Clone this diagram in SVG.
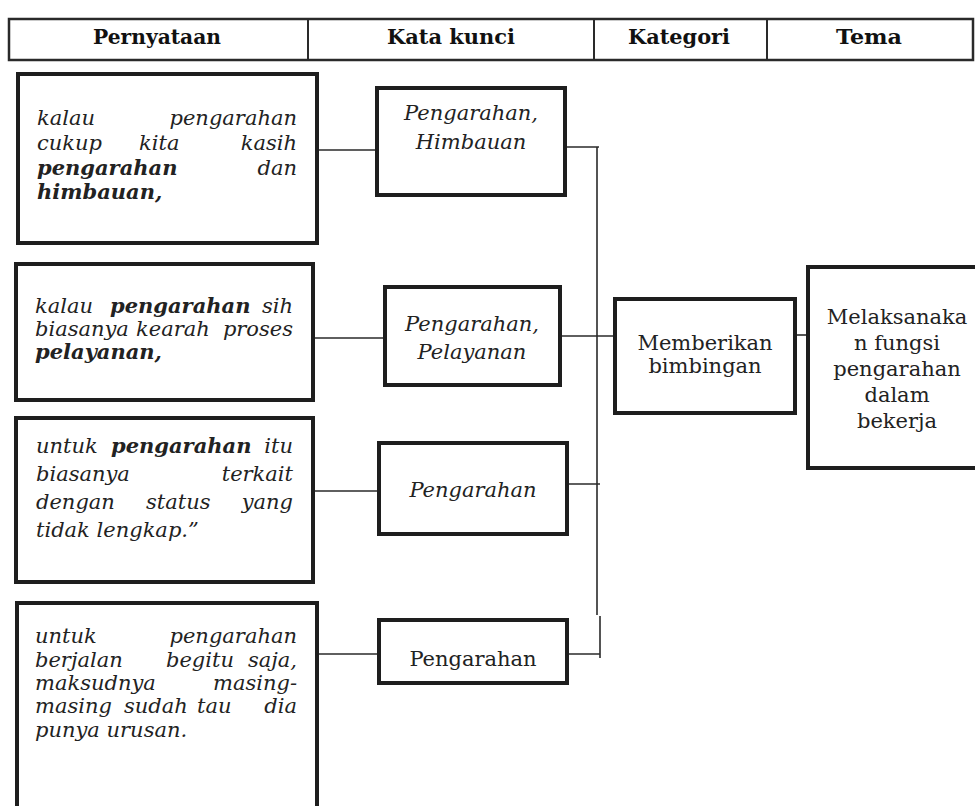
<svg xmlns="http://www.w3.org/2000/svg" width="975" height="806" viewBox="0 0 975 806">
<style>
.box{fill:#fff;stroke:#1e1e1e;stroke-width:4}
.hd{fill:#fff;stroke:#2a2a2a;stroke-width:2.5}
.div{stroke:#2a2a2a;stroke-width:2}
.ln{stroke:#2a2a2a;stroke-width:1.6;fill:none}
.ht{font-family:"DejaVu Serif","Liberation Serif",serif;font-weight:bold;font-size:20px;fill:#111;text-anchor:middle}
.st{font-family:"DejaVu Serif","Liberation Serif",serif;font-style:italic;font-size:21px;fill:#222}
.b{font-weight:bold}
.e{text-anchor:end}
.ki{font-family:"DejaVu Serif","Liberation Serif",serif;font-style:italic;font-size:21px;fill:#222;text-anchor:middle}
.kr{font-family:"DejaVu Serif","Liberation Serif",serif;font-size:21px;fill:#222;text-anchor:middle}
</style>
<rect width="975" height="806" fill="#fff"/>
<g id="header">
<rect class="hd" x="9" y="19" width="964" height="41"/>
<line class="div" x1="308" y1="19" x2="308" y2="60"/>
<line class="div" x1="594" y1="19" x2="594" y2="60"/>
<line class="div" x1="767" y1="19" x2="767" y2="60"/>
<text class="ht" x="157" y="44" textLength="128" lengthAdjust="spacingAndGlyphs">Pernyataan</text>
<text class="ht" x="451" y="44" textLength="128" lengthAdjust="spacingAndGlyphs">Kata kunci</text>
<text class="ht" x="679" y="44" textLength="102" lengthAdjust="spacingAndGlyphs">Kategori</text>
<text class="ht" x="869" y="44" textLength="66" lengthAdjust="spacingAndGlyphs">Tema</text>
</g>
<g id="connectors">
<line class="ln" x1="317" y1="150" x2="377" y2="150"/>
<line class="ln" x1="565" y1="147" x2="599" y2="147"/>
<line class="ln" x1="313" y1="338" x2="385" y2="338"/>
<line class="ln" x1="560" y1="336" x2="615" y2="336"/>
<line class="ln" x1="313" y1="491" x2="379" y2="491"/>
<line class="ln" x1="567" y1="484" x2="600" y2="484"/>
<line class="ln" x1="317" y1="654" x2="379" y2="654"/>
<line class="ln" x1="566" y1="654" x2="600" y2="654"/>
<line class="ln" x1="597" y1="147" x2="597" y2="615"/>
<line class="ln" x1="600" y1="616" x2="600" y2="658"/>
<line class="ln" x1="795" y1="335" x2="808" y2="335"/>
</g>
<g id="s1">
<rect class="box" x="18" y="74" width="299" height="169"/>
<text class="st" x="37" y="125">kalau</text>
<text class="st e" x="297" y="125">pengarahan</text>
<text class="st" x="37" y="150">cukup</text>
<text class="st" x="139" y="150">kita</text>
<text class="st e" x="297" y="150">kasih</text>
<text class="st b" x="37" y="175">pengarahan</text>
<text class="st e" x="297" y="175">dan</text>
<text class="st b" x="37" y="199">himbauan,</text>
</g>
<g id="s2">
<rect class="box" x="16" y="264" width="297" height="136"/>
<text class="st" x="35" y="313">kalau</text>
<text class="st b" x="110" y="313">pengarahan</text>
<text class="st e" x="293" y="313">sih</text>
<text class="st" x="35" y="336">biasanya</text>
<text class="st" x="136" y="336">kearah</text>
<text class="st e" x="293" y="336">proses</text>
<text class="st b" x="35" y="359">pelayanan,</text>
</g>
<g id="s3">
<rect class="box" x="16" y="418" width="297" height="164"/>
<text class="st" x="36" y="453">untuk</text>
<text class="st b" x="111" y="453">pengarahan</text>
<text class="st e" x="293" y="453">itu</text>
<text class="st" x="36" y="481">biasanya</text>
<text class="st e" x="293" y="481">terkait</text>
<text class="st" x="36" y="509">dengan</text>
<text class="st" x="146" y="509">status</text>
<text class="st e" x="293" y="509">yang</text>
<text class="st" x="36" y="537">tidak lengkap.”</text>
</g>
<g id="s4">
<rect class="box" x="17" y="603" width="300" height="220"/>
<text class="st" x="35" y="643">untuk</text>
<text class="st e" x="297" y="643">pengarahan</text>
<text class="st" x="35" y="667">berjalan</text>
<text class="st" x="166" y="667">begitu</text>
<text class="st e" x="297" y="667">saja,</text>
<text class="st" x="35" y="690">maksudnya</text>
<text class="st e" x="297" y="690">masing-</text>
<text class="st" x="35" y="713">masing</text>
<text class="st" x="124" y="713">sudah</text>
<text class="st" x="197" y="713">tau</text>
<text class="st e" x="297" y="713">dia</text>
<text class="st" x="35" y="737">punya urusan.</text>
</g>
<g id="k1">
<rect class="box" x="377" y="88" width="188" height="107"/>
<text class="ki" x="471" y="120">Pengarahan,</text>
<text class="ki" x="471" y="149">Himbauan</text>
</g>
<g id="k2">
<rect class="box" x="385" y="287" width="175" height="98"/>
<text class="ki" x="472" y="331">Pengarahan,</text>
<text class="ki" x="472" y="359">Pelayanan</text>
</g>
<g id="k3">
<rect class="box" x="379" y="443" width="188" height="91"/>
<text class="ki" x="473" y="497">Pengarahan</text>
</g>
<g id="k4">
<rect class="box" x="379" y="620" width="188" height="63"/>
<text class="kr" x="473" y="666">Pengarahan</text>
</g>
<g id="kategori">
<rect class="box" x="615" y="299" width="180" height="114"/>
<text class="kr" x="705" y="350">Memberikan</text>
<text class="kr" x="705" y="373">bimbingan</text>
</g>
<g id="tema">
<rect class="box" x="808" y="267" width="185" height="201"/>
<text class="kr" x="897" y="324">Melaksanaka</text>
<text class="kr" x="897" y="350">n fungsi</text>
<text class="kr" x="897" y="376">pengarahan</text>
<text class="kr" x="897" y="402">dalam</text>
<text class="kr" x="897" y="428">bekerja</text>
</g>
</svg>
